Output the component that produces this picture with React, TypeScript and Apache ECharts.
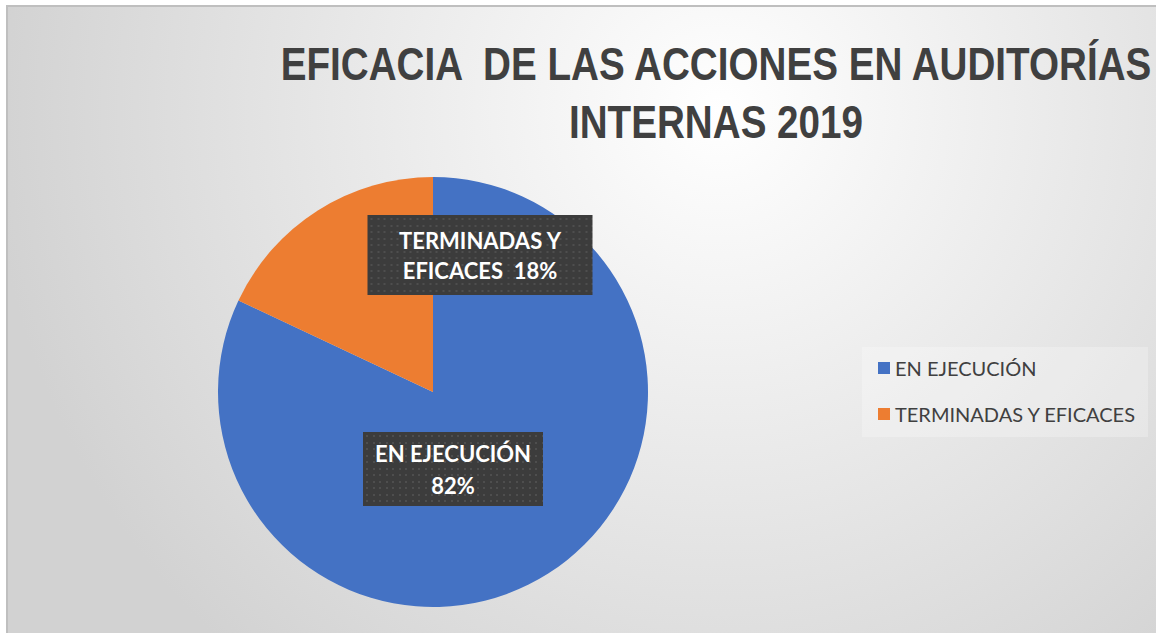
import React, { useEffect, useRef } from "react";
import * as echarts from "echarts";

const titleLines = ["EFICACIA  DE LAS ACCIONES EN AUDITORÍAS", "INTERNAS 2019"];
const categories = ["EN EJECUCIÓN", "TERMINADAS Y EFICACES"];
const values = [82, 18];
const labelTexts = ["EN EJECUCIÓN\n82%", "TERMINADAS Y\nEFICACES  18%"];
const colors = ["#4472C4", "#ED7D31"];

const FONT = 'Lato, "Liberation Sans", sans-serif';

function dotPattern(w: number, h: number): string {
  const c = document.createElement("canvas");
  c.width = w;
  c.height = h;
  const ctx = c.getContext("2d");
  if (!ctx) return "";
  ctx.fillStyle = "#3c3c3c";
  ctx.fillRect(0, 0, w, h);
  ctx.fillStyle = "#4e4e4e";
  for (let y = 3; y < h; y += 6.5) {
    for (let x = 3; x < w; x += 6.5) {
      ctx.fillRect(Math.round(x), Math.round(y), 2, 2);
    }
  }
  return c.toDataURL();
}

export default function App() {
  const ref = useRef<HTMLDivElement>(null);
  useEffect(() => {
    document.body.style.margin = "0";
    const chart = echarts.init(ref.current!, null, { renderer: "svg" });
    const labelBoxes = [
      { cx: 453, cy: 469, w: 160, lh: 32, pad: [5, 10], bw: 180, bh: 74 },
      { cx: 480, cy: 255, w: 185, lh: 30, pad: [10, 20], bw: 225, bh: 80 },
    ];
    chart.setOption({
      animation: false,
      graphic: [
        {
          type: "rect",
          z: -10,
          silent: true,
          shape: { x: 7, y: 6, width: 1160, height: 640 },
          style: {
            fill: {
              type: "radial",
              x: 720,
              y: 110,
              r: 730,
              global: true,
              colorStops: [
                { offset: 0, color: "#ffffff" },
                { offset: 1, color: "#d2d2d2" },
              ],
            },
            stroke: "#bfbfbf",
            lineWidth: 2,
          },
        },
        {
          type: "rect",
          z: -5,
          silent: true,
          shape: { x: 862, y: 347, width: 286, height: 90 },
          style: { fill: "rgba(255,255,255,0.25)" },
        },
        ...titleLines.map((t, i) => ({
          type: "text",
          silent: true,
          x: 716,
          y: i === 0 ? 64 : 122,
          scaleX: 0.84,
          style: {
            text: t,
            fill: "#404040",
            font: `bold 46px "Liberation Sans", sans-serif`,
            align: "center",
            verticalAlign: "middle",
          },
        })),
      ],
      legend: {
        orient: "vertical",
        left: 873,
        top: 353,
        itemWidth: 12,
        itemHeight: 12,
        itemGap: 26,
        icon: "rect",
        textStyle: { fontFamily: FONT, fontSize: 20, color: "#404040" },
        data: categories,
      },
      series: [
        {
          type: "pie",
          center: [433, 392],
          radius: 215,
          startAngle: 90,
          clockwise: true,
          itemStyle: { borderWidth: 0 },
          labelLine: { show: false },
          data: categories.map((c, i) => {
            const b = labelBoxes[i];
            const img = dotPattern(b.bw, b.bh);
            return {
              name: c,
              value: values[i],
              itemStyle: { color: colors[i] },
              label: {
                show: true,
                position: "inside",
                formatter: labelTexts[i],
                color: "#ffffff",
                fontFamily: FONT,
                fontWeight: "bold",
                fontSize: 22,
                lineHeight: b.lh,
                width: b.w,
                overflow: "none",
                align: "center",
                padding: b.pad,
                backgroundColor: img ? { image: img } : "#3c3c3c",
                shadowColor: "rgba(0,0,0,0.45)",
                shadowBlur: 4,
                shadowOffsetX: 3,
                shadowOffsetY: 3,
              },
            };
          }),
          labelLayout: (params: any) => {
            const b = labelBoxes[params.dataIndex];
            return { x: b.cx, y: b.cy, align: "center", verticalAlign: "middle" };
          },
        },
      ],
    });
    return () => chart.dispose();
  }, []);
  return <div ref={ref} style={{ width: 1156, height: 633 }} />;
}
